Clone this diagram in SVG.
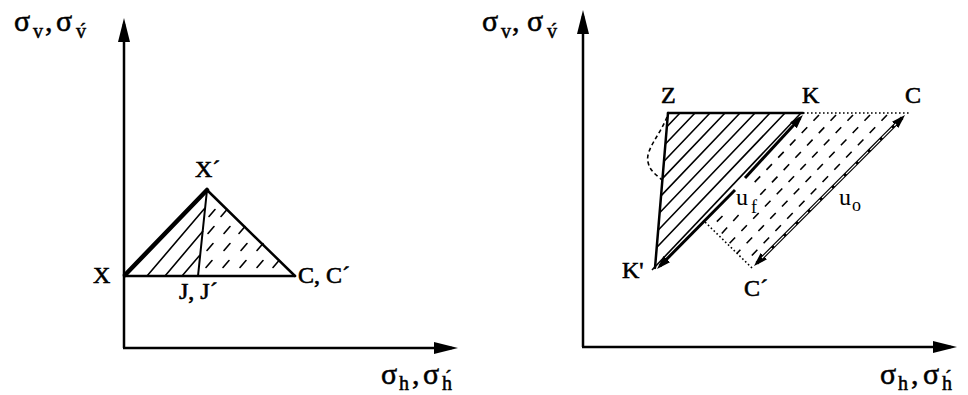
<svg xmlns="http://www.w3.org/2000/svg" width="968" height="395" viewBox="0 0 968 395">
<style>
text{font-family:"Liberation Serif","Times New Roman",serif;fill:#000}
.lbl{font-size:24px;stroke:#000;stroke-width:0.6}
.ax{font-size:30px;stroke:#000;stroke-width:0.5}
.sub{font-size:20px}
.axis{stroke:#000;stroke-width:2.5;fill:none}
.edge{stroke:#000;stroke-width:2.5;fill:none;stroke-linecap:round}
.thick{stroke:#000;stroke-width:4.5;fill:none;stroke-linecap:round}
.thin{stroke:#000;stroke-width:1.6;fill:none}
.hatch{stroke:#000;stroke-width:1.6;fill:none}
.dash{stroke:#000;stroke-width:1.6;fill:none;stroke-linecap:round}
.dashline{stroke:#000;stroke-width:1.6;fill:none;stroke-dasharray:8 9}
.dot{stroke:#000;stroke-width:1.6;fill:none;stroke-dasharray:1.6 2.4}
.arr{stroke:#000;stroke-width:3;fill:none}
.ladder{stroke:#fff;stroke-width:1.2;fill:none;stroke-dasharray:14 3}
</style>
<defs>
<marker id="axhead" markerUnits="userSpaceOnUse" markerWidth="26" markerHeight="14" refX="18" refY="6" orient="auto">
<path d="M0,0 L24,6 L0,12 z" fill="#000"/>
</marker>
<marker id="head" markerUnits="userSpaceOnUse" markerWidth="16" markerHeight="10" refX="10" refY="4.5" orient="auto-start-reverse">
<path d="M0,0 L14,4.5 L0,9 z" fill="#000"/>
</marker>
</defs>
<rect width="968" height="395" fill="#fff"/>

<!-- LEFT DIAGRAM -->
<g id="left-axes">
<line class="axis" x1="124" y1="348" x2="124" y2="24" marker-end="url(#axhead)"/>
<line class="axis" x1="123" y1="348" x2="452" y2="348" marker-end="url(#axhead)"/>
<text class="ax"><tspan x="14" y="31">σ</tspan><tspan class="sub" x="33" y="38">v</tspan><tspan x="45" y="31">,</tspan><tspan x="56" y="31">σ</tspan><tspan class="sub" x="76" y="38">v́</tspan></text>
<text class="ax"><tspan x="381" y="384">σ</tspan><tspan class="sub" x="399" y="390">h</tspan><tspan x="412" y="384">,</tspan><tspan x="423" y="384">σ</tspan><tspan class="sub" x="442" y="390">h́</tspan></text>
</g>

<g id="left-hatch">
<path class="hatch" d="M147,276 L205,208 M165,276 L203,231 M182,276 L200,255"/>
<path class="dash" d="M209,216.5 l6,-7 M221,216.5 l6,-7
M208,233.5 l6,-7 M224,233.5 l6,-7 M239,233.5 l6,-7
M207,250.5 l6,-7 M224,250.5 l6,-7 M241,250.5 l6,-7 M257,250.5 l6,-7
M206,267.5 l6,-7 M223,267.5 l6,-7 M240,267.5 l6,-7 M257,267.5 l6,-7 M273,267.5 l6,-7"/>
</g>

<g id="node-X">
<text class="lbl" x="93" y="283">X</text>
</g>
<g id="node-Xp">
<text class="lbl" x="195" y="177">X´</text>
</g>
<g id="node-J">
<text class="lbl" x="179" y="299">J, J´</text>
</g>
<g id="node-C-left">
<text class="lbl" x="298" y="283">C, C´</text>
</g>

<g id="left-connectors">
<line class="edge" x1="124" y1="276" x2="295" y2="276"/>
<line class="edge" x1="207" y1="190" x2="295" y2="276"/>
<line class="edge" x1="207" y1="190" x2="198" y2="276" style="stroke-width:2"/>
<line class="thick" x1="125" y1="275" x2="207" y2="190"/>
</g>

<!-- RIGHT DIAGRAM -->
<g id="right-axes">
<line class="axis" x1="583" y1="347" x2="583" y2="16" marker-end="url(#axhead)"/>
<line class="axis" x1="582" y1="347" x2="951" y2="347" marker-end="url(#axhead)"/>
<text class="ax"><tspan x="482" y="31">σ</tspan><tspan class="sub" x="501" y="38">v</tspan><tspan x="512" y="31">,</tspan><tspan x="527" y="31">σ</tspan><tspan class="sub" x="547" y="38">v́</tspan></text>
<text class="ax"><tspan x="880" y="384">σ</tspan><tspan class="sub" x="898" y="390">h</tspan><tspan x="911" y="384">,</tspan><tspan x="923" y="384">σ</tspan><tspan class="sub" x="942" y="390">h́</tspan></text>
</g>

<g id="right-hatch">
<path class="hatch" d="M680,113 L666.9,126.8 M695,113 L665.4,144 M710,113 L664,161.2 M725,113 L662.6,178.4 M740,113 L661.2,195.6 M755,113 L659.7,212.8 M770,113 L658.3,230 M785,113 L656.9,247.2"/>
<path class="dashline" d="M819,115 L751,186 M722.5,216 L711,227.5 M836,115 L760,195 M738.6,215 L719.5,236 M853,115 L728.2,244.7 M870,115 L737,253.3 M887,115 L745.7,261.9"/>
</g>

<g id="node-Z">
<text class="lbl" x="661" y="103">Z</text>
</g>
<g id="node-K">
<text class="lbl" x="802" y="103">K</text>
</g>
<g id="node-C">
<text class="lbl" x="905" y="103">C</text>
</g>
<g id="node-Kp">
<text class="lbl" x="622" y="278">K'</text>
</g>
<g id="node-Cp">
<text class="lbl" x="744" y="296">C´</text>
</g>
<g id="label-uf">
<text style="font-size:24px" x="736" y="205">u</text>
<text style="font-size:18px" x="751" y="213">f</text>
</g>
<g id="label-uo">
<text style="font-size:24px" x="839" y="205">u</text>
<text style="font-size:18px" x="852" y="211">o</text>
</g>

<g id="right-connectors">
<line class="edge" x1="668" y1="113" x2="803" y2="113"/>
<line class="dot" x1="803" y1="113" x2="910" y2="113"/>
<line class="edge" x1="668" y1="113" x2="655" y2="268"/>
<path d="M667,117 C660,135 645,150 648,162 C650,172 658,176 662,180" fill="none" stroke="#000" stroke-width="1.6" stroke-dasharray="4 3"/>
<line class="thin" x1="652" y1="270" x2="801" y2="113"/>
<line class="arr" x1="745" y1="178" x2="800.2" y2="117.9" marker-end="url(#head)"/>
<line class="arr" x1="735" y1="190" x2="659.8" y2="266.1" marker-end="url(#head)"/>
<line class="dot" x1="752" y1="268" x2="705" y2="222"/>
<line class="arr" x1="756.8" y1="263.2" x2="902.2" y2="117.8" style="stroke-width:3.5" marker-start="url(#head)" marker-end="url(#head)"/>
<line class="ladder" x1="762" y1="258" x2="896" y2="124"/>
</g>
</svg>
